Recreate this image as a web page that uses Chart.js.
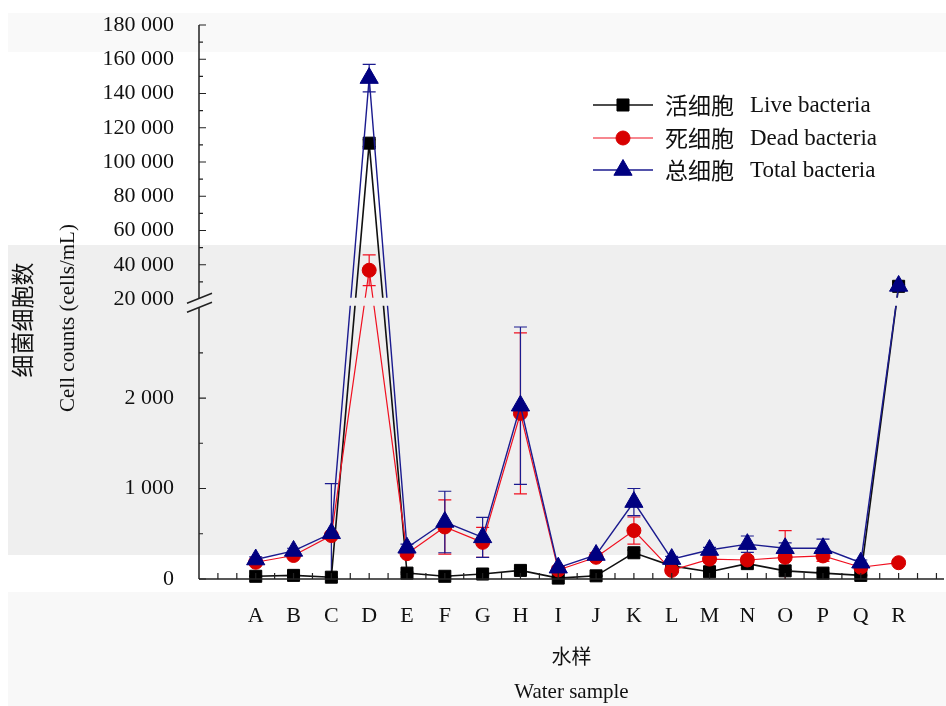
<!DOCTYPE html>
<html>
<head>
<meta charset="utf-8">
<script src="https://cdn.jsdelivr.net/npm/chart.js@4/dist/chart.umd.min.js"></script>
<style>
  html, body { margin: 0; padding: 0; background: #fff; }
  #wrap { width: 946px; height: 706px; }
</style>
</head>
<body>
<div id="wrap"><canvas id="c" width="946" height="706"></canvas></div>
<script>
// Water samples
const CATEGORIES = ['A','B','C','D','E','F','G','H','I','J','K','L','M','N','O','P','Q','R'];

// Cell counts (cells/mL) per sample
const LIVE  = [30, 40, 20, 111000, 65, 30, 55, 95, 10, 35, 290, 145, 80, 170, 90, 65, 40, 27400];
const DEAD  = [185, 260, 480, 36800, 280, 575, 405, 1830, 100, 240, 535, 95, 220, 210, 240, 255, 130, 180];
const TOTAL = [215, 310, 505, 149000, 345, 630, 460, 1915, 125, 265, 850, 220, 320, 385, 340, 340, 180, 27600];

// Standard deviations
const LIVE_ERR  = [5, 5, 5, 2000, 10, 5, 10, 20, 5, 5, 30, 20, 10, 20, 15, 10, 5, 300];
const DEAD_ERR  = [20, 25, 30, 9000, 30, 300, 165, 890, 15, 20, 150, 20, 20, 40, 295, 60, 20, 20];
const TOTAL_ERR = [30, 30, 550, 8000, 40, 340, 220, 870, 15, 25, 150, 30, 30, 90, 60, 100, 30, 800];

// Series names
const SERIES_CN = ['活细胞', '死细胞', '总细胞'];
const SERIES_EN = ['Live bacteria', 'Dead bacteria', 'Total bacteria'];

// Broken value axis: 0–3 000 below the break, 15 000–180 000 above it
const Y_TICKS = [0, 1000, 2000, 20000, 40000, 60000, 80000, 100000, 120000, 140000, 160000, 180000];
const Y_MINOR = [500, 1500, 2500, 30000, 50000, 70000, 90000, 110000, 130000, 150000, 170000];
const Y_LOW_MAX = 3000;
const Y_HIGH_MIN = 15000;
const Y_MAX = 180000;
const LOW_SHARE = 0.49;

const SERIF = '"Liberation Serif", "Times New Roman", serif';
const CJK = '"Noto Sans CJK SC", sans-serif';
const BAND = '#efefef';

class BrokenLinearScale extends Chart.LinearScale {
  static id = 'brokenLinear';
  static defaults = Chart.LinearScale.defaults;
  determineDataLimits() { this.min = 0; this.max = Y_MAX; }
  buildTicks() {
    this.start = 0; this.end = Y_MAX;
    return Y_TICKS.map(v => ({ value: v }));
  }
  toDecimal(v) {
    if (v <= Y_LOW_MAX) return (v / Y_LOW_MAX) * LOW_SHARE;
    if (v < Y_HIGH_MIN) return LOW_SHARE;
    return LOW_SHARE + (v - Y_HIGH_MIN) / (Y_MAX - Y_HIGH_MIN) * (1 - LOW_SHARE);
  }
  getPixelForValue(v) { return this.getPixelForDecimal(this.toDecimal(v)); }
  getValueForPixel(p) {
    const d = this.getDecimalForPixel(p);
    if (d <= LOW_SHARE) return d / LOW_SHARE * Y_LOW_MAX;
    return Y_HIGH_MIN + (d - LOW_SHARE) / (1 - LOW_SHARE) * (Y_MAX - Y_HIGH_MIN);
  }
}
Chart.register(BrokenLinearScale);

const fmt = v => String(v).replace(/\B(?=(\d{3})+(?!\d))/g, ' ');
const pts = arr => CATEGORIES.map((c, i) => ({ x: i, y: arr[i] }));

const STYLES = [
  { color: '#111111', fill: '#000000', point: 'rect', radius: 8.5, width: 1.6, order: 2 },
  { color: '#f01020', fill: '#d80000', point: 'circle', radius: 7, width: 1.2, order: 1 },
  { color: '#1b1b8f', fill: '#000080', point: 'triangle', radius: 10.5, width: 1.4, order: 0 }
];
const VALUES = [LIVE, DEAD, TOTAL];
const ERRORS = [LIVE_ERR, DEAD_ERR, TOTAL_ERR];

const datasets = VALUES.map((vals, k) => ({
  label: SERIES_CN[k] + ' ' + SERIES_EN[k],
  data: pts(vals),
  errors: ERRORS[k],
  borderColor: STYLES[k].color,
  backgroundColor: STYLES[k].fill,
  borderWidth: STYLES[k].width,
  pointStyle: STYLES[k].point,
  pointRadius: STYLES[k].radius,
  pointBorderWidth: 1,
  pointBorderColor: STYLES[k].fill,
  pointBackgroundColor: STYLES[k].fill,
  tension: 0,
  order: STYLES[k].order,
  clip: false
}));

const decorations = {
  id: 'decorations',
  beforeDraw(chart) {
    const { ctx } = chart;
    ctx.save();
    ctx.fillStyle = '#ffffff';
    ctx.fillRect(0, 0, chart.width, chart.height);
    ctx.fillStyle = '#f9f9f9';
    ctx.fillRect(8, 13, chart.width - 8, 39);
    ctx.fillStyle = BAND;
    ctx.fillRect(8, 245, chart.width - 8, 310);
    ctx.fillStyle = '#f8f8f8';
    ctx.fillRect(8, 592, chart.width - 8, chart.height - 592);
    ctx.restore();
  },
  beforeDatasetsDraw(chart) {
    // error bars
    const { ctx } = chart;
    const xs = chart.scales.x, ys = chart.scales.y;
    ctx.save();
    chart.data.datasets.forEach((ds, k) => {
      ctx.strokeStyle = STYLES[k].color;
      ctx.lineWidth = 1.2;
      ds.data.forEach((p, i) => {
        const e = ds.errors[i];
        if (!e) return;
        const px = xs.getPixelForValue(p.x);
        const top = ys.getPixelForValue(p.y + e);
        const bot = ys.getPixelForValue(Math.max(0, p.y - e));
        ctx.beginPath();
        ctx.moveTo(px, top); ctx.lineTo(px, bot);
        ctx.moveTo(px - 6.5, top); ctx.lineTo(px + 6.5, top);
        if (p.y - e > 0) { ctx.moveTo(px - 6.5, bot); ctx.lineTo(px + 6.5, bot); }
        ctx.stroke();
      });
    });
    ctx.restore();
  },
  afterDatasetsDraw(chart) {
    const { ctx, chartArea: a } = chart;
    const xs = chart.scales.x, ys = chart.scales.y;
    const by = (ys.getPixelForValue(Y_LOW_MAX) + ys.getPixelForValue(20000)) / 2;
    ctx.save();

    // gap of the axis break across the plot
    ctx.fillStyle = BAND;
    ctx.fillRect(a.left, by - 5.5, a.right - a.left + 2, 8);

    // axes
    ctx.strokeStyle = '#222';
    ctx.lineWidth = 1.5;
    ctx.beginPath();
    ctx.moveTo(a.left, a.top); ctx.lineTo(a.left, by - 4.8);
    ctx.moveTo(a.left, by + 4.2); ctx.lineTo(a.left, a.bottom);
    ctx.moveTo(a.left, a.bottom); ctx.lineTo(a.right, a.bottom);
    ctx.stroke();

    // inward ticks on the value axis
    ctx.lineWidth = 1.2;
    ctx.beginPath();
    Y_TICKS.forEach(v => { const py = ys.getPixelForValue(v); ctx.moveTo(a.left, py); ctx.lineTo(a.left + 7, py); });
    Y_MINOR.forEach(v => { const py = ys.getPixelForValue(v); ctx.moveTo(a.left, py); ctx.lineTo(a.left + 4, py); });
    // inward ticks on the sample axis (every half step)
    for (let t = -1; t <= 18; t += 0.5) {
      const px = xs.getPixelForValue(t);
      ctx.moveTo(px, a.bottom); ctx.lineTo(px, a.bottom - 6);
    }
    ctx.stroke();

    // break marks
    ctx.fillStyle = BAND;
    ctx.beginPath();
    ctx.moveTo(a.left - 12, by); ctx.lineTo(a.left + 13, by - 10);
    ctx.lineTo(a.left + 13, by - 1); ctx.lineTo(a.left - 12, by + 9);
    ctx.closePath(); ctx.fill();
    ctx.strokeStyle = '#222';
    ctx.lineWidth = 1.5;
    ctx.beginPath();
    ctx.moveTo(a.left - 12, by); ctx.lineTo(a.left + 13, by - 10);
    ctx.moveTo(a.left - 12, by + 9); ctx.lineTo(a.left + 13, by - 1);
    ctx.stroke();

    // legend
    const rows = [105, 138, 170];
    chart.data.datasets.forEach((ds, k) => {
      const y = rows[k];
      ctx.strokeStyle = STYLES[k].color;
      ctx.lineWidth = STYLES[k].width;
      ctx.beginPath(); ctx.moveTo(593, y); ctx.lineTo(653, y); ctx.stroke();
      ctx.fillStyle = STYLES[k].fill;
      ctx.strokeStyle = STYLES[k].fill;
      ctx.lineWidth = 1;
      Chart.helpers.drawPoint(ctx, { pointStyle: STYLES[k].point, radius: STYLES[k].radius, rotation: 0, borderWidth: 1 }, 623, y);
      ctx.fillStyle = '#111';
      ctx.textBaseline = 'middle';
      ctx.textAlign = 'left';
      ctx.font = '23px ' + CJK;
      ctx.fillText(SERIES_CN[k], 665, y);
      ctx.font = '23px ' + SERIF;
      ctx.fillText(SERIES_EN[k], 750, y + 1);
    });

    // axis titles
    ctx.fillStyle = '#111';
    ctx.textAlign = 'center';
    ctx.textBaseline = 'middle';
    ctx.font = '20px ' + CJK;
    ctx.fillText('水样', (a.left + a.right) / 2, 656);
    ctx.font = '21px ' + SERIF;
    ctx.fillText('Water sample', (a.left + a.right) / 2, 692);

    ctx.save();
    ctx.translate(22, 320);
    ctx.rotate(-Math.PI / 2);
    ctx.font = '23px ' + CJK;
    ctx.fillText('细菌细胞数', 0, 0);
    ctx.restore();
    ctx.save();
    ctx.translate(68, 318);
    ctx.rotate(-Math.PI / 2);
    ctx.font = '21px ' + SERIF;
    ctx.fillText('Cell counts (cells/mL)', 0, 0);
    ctx.restore();

    ctx.restore();
  }
};

new Chart(document.getElementById('c'), {
  type: 'line',
  data: { datasets },
  plugins: [decorations],
  options: {
    responsive: false,
    devicePixelRatio: 1,
    animation: false,
    layout: { autoPadding: false, padding: { left: 0, right: 2, top: 25, bottom: 0 } },
    plugins: { legend: { display: false }, tooltip: { enabled: false } },
    scales: {
      x: {
        type: 'linear',
        min: -1.5,
        max: 18.2,
        afterBuildTicks: s => { s.ticks = CATEGORIES.map((c, i) => ({ value: i })); },
        afterFit: s => { s.height = 127; s.paddingLeft = 0; s.paddingRight = 0; },
        grid: { display: false, drawTicks: false },
        border: { display: false },
        ticks: {
          autoSkip: false, maxRotation: 0, padding: 24,
          color: '#111',
          font: { family: SERIF, size: 22 },
          callback: v => CATEGORIES[v] ?? ''
        }
      },
      y: {
        type: 'brokenLinear',
        afterFit: s => { s.width = 199; s.paddingTop = 0; s.paddingBottom = 0; },
        grid: { display: false, drawTicks: false },
        border: { display: false },
        ticks: {
          padding: 25,
          color: '#111',
          font: { family: SERIF, size: 22 },
          callback: v => fmt(v)
        }
      }
    }
  }
});
</script>
</body>
</html>
